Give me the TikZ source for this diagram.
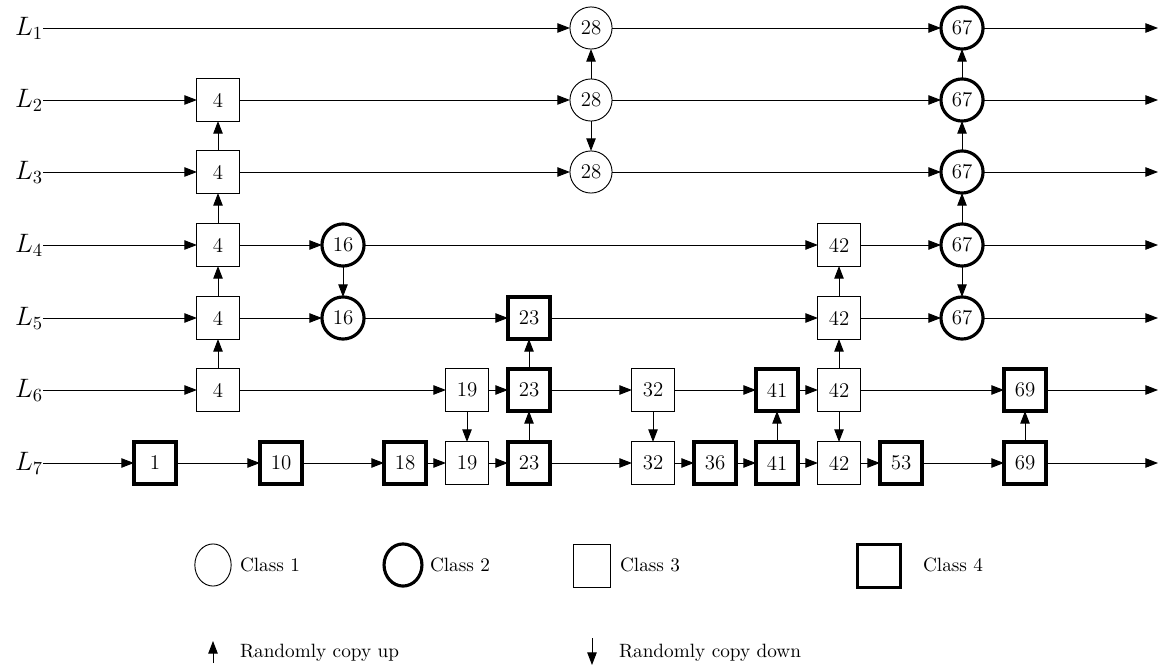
\documentclass[tikz,border=0pt]{standalone}
\usetikzlibrary{arrows.meta,shapes.geometric}
\begin{document}
\begin{tikzpicture}[x=0.019cm,y=-0.019cm,
  every node/.style={inner sep=0pt,outer sep=0pt},
  numfont/.style={font=\fontsize{11.3pt}{13pt}\selectfont},
  classone/.style={circle,draw,line width=0.5pt,minimum size=0.8cm,numfont},
  classtwo/.style={circle,draw,line width=1.7pt,minimum size=0.8cm,numfont},
  classthree/.style={rectangle,draw,line width=0.5pt,minimum size=0.8cm,numfont},
  classfour/.style={rectangle,draw,line width=1.7pt,minimum size=0.8cm,numfont},
  rowlabel/.style={anchor=east,font=\fontsize{14pt}{16pt}\selectfont},
  legtext/.style={anchor=west,font=\fontsize{10.4pt}{12pt}\selectfont},
  conn/.style={line width=0.5pt,-{Triangle[length=0.24cm,width=0.18cm]}},
  link/.style={line width=0.5pt}
]
\useasboundingbox (0,0) rectangle (1160,668);

% row starts, labels and ends
\foreach \r/\y in {1/28,2/100,3/172,4/245,5/318,6/390,7/463}{
  \coordinate (s\r) at (43,\y);
  \coordinate (e\r) at (1158,\y);
  \node[rowlabel] (lab\r) at (s\r) {$L_\r$};
}

% level 1
\node[classone] (r1v28) at (591,28) {28};
\node[classtwo] (r1v67) at (962,28) {67};
% level 2
\node[classthree] (r2v4) at (218,100) {4};
\node[classone] (r2v28) at (591,100) {28};
\node[classtwo] (r2v67) at (962,100) {67};
% level 3
\node[classthree] (r3v4) at (218,172) {4};
\node[classone] (r3v28) at (591,172) {28};
\node[classtwo] (r3v67) at (962,172) {67};
% level 4
\node[classthree] (r4v4) at (218,245) {4};
\node[classtwo] (r4v16) at (343,245) {16};
\node[classthree] (r4v42) at (839,245) {42};
\node[classtwo] (r4v67) at (962,245) {67};
% level 5
\node[classthree] (r5v4) at (218,318) {4};
\node[classtwo] (r5v16) at (343,318) {16};
\node[classfour] (r5v23) at (529,318) {23};
\node[classthree] (r5v42) at (839,318) {42};
\node[classtwo] (r5v67) at (962,318) {67};
% level 6
\node[classthree] (r6v4) at (218,390) {4};
\node[classthree] (r6v19) at (467,390) {19};
\node[classfour] (r6v23) at (529,390) {23};
\node[classthree] (r6v32) at (653,390) {32};
\node[classfour] (r6v41) at (777,390) {41};
\node[classthree] (r6v42) at (839,390) {42};
\node[classfour] (r6v69) at (1025,390) {69};
% level 7
\node[classfour] (r7v1) at (155,463) {1};
\node[classfour] (r7v10) at (281,463) {10};
\node[classfour] (r7v18) at (405,463) {18};
\node[classthree] (r7v19) at (467,463) {19};
\node[classfour] (r7v23) at (529,463) {23};
\node[classthree] (r7v32) at (653,463) {32};
\node[classfour] (r7v36) at (715,463) {36};
\node[classfour] (r7v41) at (777,463) {41};
\node[classthree] (r7v42) at (839,463) {42};
\node[classfour] (r7v53) at (901,463) {53};
\node[classfour] (r7v69) at (1025,463) {69};

% horizontal links along each level
\foreach \a/\b in {s1/r1v28, r1v28/r1v67, r1v67/e1,
    s2/r2v4, r2v4/r2v28, r2v28/r2v67, r2v67/e2,
    s3/r3v4, r3v4/r3v28, r3v28/r3v67, r3v67/e3,
    s4/r4v4, r4v4/r4v16, r4v16/r4v42, r4v42/r4v67, r4v67/e4,
    s5/r5v4, r5v4/r5v16, r5v16/r5v23, r5v23/r5v42, r5v42/r5v67, r5v67/e5,
    s6/r6v4, r6v4/r6v19, r6v19/r6v23, r6v23/r6v32, r6v32/r6v41, r6v41/r6v42, r6v42/r6v69, r6v69/e6,
    s7/r7v1, r7v1/r7v10, r7v10/r7v18, r7v18/r7v19, r7v19/r7v23, r7v23/r7v32, r7v32/r7v36,
    r7v36/r7v41, r7v41/r7v42, r7v42/r7v53, r7v53/r7v69, r7v69/e7}
  \draw[conn] (\a) -- (\b);

% vertical copies between levels
\foreach \a/\b in {r3v4/r2v4, r4v4/r3v4, r5v4/r4v4, r6v4/r5v4,
    r2v28/r1v28, r2v28/r3v28,
    r4v16/r5v16,
    r6v19/r7v19,
    r7v23/r6v23, r6v23/r5v23,
    r6v32/r7v32,
    r7v41/r6v41,
    r6v42/r5v42, r5v42/r4v42, r6v42/r7v42,
    r2v67/r1v67, r3v67/r2v67, r4v67/r3v67, r4v67/r5v67,
    r7v69/r6v69}
  \draw[conn] (\a) -- (\b);

% legend: node classes
\node[ellipse,draw,line width=0.5pt,minimum width=0.69cm,minimum height=0.8cm] (k1) at (213,565) {};
\node[legtext] (t1) at (240,565) {Class 1};
\node[ellipse,draw,line width=1.7pt,minimum width=0.72cm,minimum height=0.8cm] (k2) at (403,565) {};
\node[legtext] (t2) at (430,565) {Class 2};
\node[rectangle,draw,line width=0.5pt,minimum width=0.69cm,minimum height=0.8cm] (k3) at (592,566) {};
\node[legtext] (t3) at (620,565) {Class 3};
\node[rectangle,draw,line width=1.7pt,minimum size=0.82cm] (k4) at (879,566) {};
\node[legtext] (t4) at (923,565) {Class 4};

% legend: copy directions
\coordinate (ua) at (213,663);
\coordinate (ub) at (213,641);
\draw[conn] (ua) -- (ub);
\node[legtext] (tu) at (240,653) {Randomly copy up};
\coordinate (da) at (592,638);
\coordinate (db) at (592,665);
\draw[conn] (da) -- (db);
\node[legtext] (td) at (619,653) {Randomly copy down};
\end{tikzpicture}
\end{document}
